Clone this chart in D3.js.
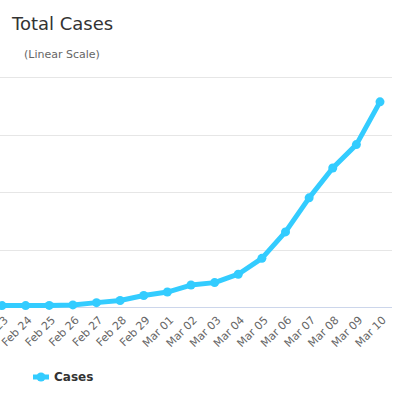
<!DOCTYPE html>
<html>
<head>
<meta charset="utf-8">
<script src="https://cdn.jsdelivr.net/npm/d3@7"></script>
<style>
  body { margin: 0; background: #fff; }
  svg { display: block; font-family: "DejaVu Sans", sans-serif; }
</style>
</head>
<body>
<svg width="396" height="396"></svg>
<script>
const width = 396;
const height = 396;

const dates = ["Feb 23", "Feb 24", "Feb 25", "Feb 26", "Feb 27", "Feb 28", "Feb 29",
  "Mar 01", "Mar 02", "Mar 03", "Mar 04", "Mar 05", "Mar 06", "Mar 07", "Mar 08", "Mar 09", "Mar 10"];
const cases = [12, 12, 14, 18, 38, 57, 100, 130, 191, 212, 285, 423, 653, 949, 1209, 1412, 1784];
const yTicks = [0, 500, 1000, 1500, 2000];

const svg = d3.select("svg");

// title block
svg.append("text")
  .attr("x", 12).attr("y", 30)
  .attr("font-size", 18).attr("fill", "#333")
  .text("Total Cases");

svg.append("text")
  .attr("x", 24).attr("y", 58)
  .attr("font-size", 11).attr("fill", "#666")
  .text("(Linear Scale)");

// scales - plot is wider than the window, left part is cut off
const x = d3.scalePoint()
  .domain(dates)
  .range([2, 380]);

const y = d3.scaleLinear()
  .domain([0, 2000])
  .range([307, 77]);

// gridlines
svg.append("g")
  .selectAll("line")
  .data(yTicks.filter(d => d > 0))
  .enter().append("line")
  .attr("x1", 0).attr("x2", 392)
  .attr("y1", d => Math.round(y(d)) + 0.5)
  .attr("y2", d => Math.round(y(d)) + 0.5)
  .attr("stroke", "#e6e6e6");

// x axis line
svg.append("line")
  .attr("x1", 0).attr("x2", 392)
  .attr("y1", y(0) + 0.5).attr("y2", y(0) + 0.5)
  .attr("stroke", "#ccd6eb");

// rotated date labels
svg.append("g")
  .selectAll("text")
  .data(dates)
  .enter().append("text")
  .attr("transform", d => "translate(" + (x(d) + 4) + ",318) rotate(-45)")
  .attr("text-anchor", "end")
  .attr("dy", "0.35em")
  .attr("font-size", 11)
  .attr("fill", "#666")
  .text(d => d);

const lineColor = "#33ccff";

const line = d3.line()
  .x((d, i) => x(dates[i]))
  .y(d => y(d));

svg.append("path")
  .datum(cases)
  .attr("d", line)
  .attr("fill", "none")
  .attr("stroke", lineColor)
  .attr("stroke-width", 5)
  .attr("stroke-linejoin", "round")
  .attr("stroke-linecap", "round");

svg.append("g")
  .selectAll("circle")
  .data(cases)
  .enter().append("circle")
  .attr("cx", (d, i) => x(dates[i]))
  .attr("cy", d => y(d))
  .attr("r", 4.5)
  .attr("fill", lineColor);

// legend
const legend = svg.append("g").attr("transform", "translate(33,377)");
legend.append("line")
  .attr("x1", 0).attr("x2", 16)
  .attr("stroke", lineColor).attr("stroke-width", 5);
legend.append("circle")
  .attr("cx", 8).attr("r", 4.5).attr("fill", lineColor);
legend.append("text")
  .attr("x", 21).attr("dy", "0.35em")
  .attr("font-size", 12).attr("font-weight", "bold").attr("fill", "#333")
  .text("Cases");
</script>
</body>
</html>
